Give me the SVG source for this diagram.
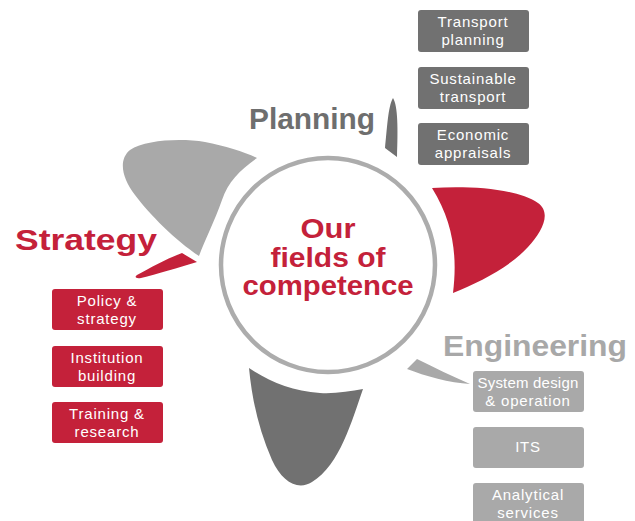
<svg xmlns="http://www.w3.org/2000/svg" width="635" height="521" viewBox="0 0 635 521">
<style>
.title{font-family:"Liberation Sans",Arial,sans-serif;font-weight:bold;font-size:30px}
.ctr{font-family:"Liberation Sans",Arial,sans-serif;font-weight:bold;font-size:28px;fill:#c4213a;text-anchor:middle}
.bt{font-family:"Liberation Sans",Arial,sans-serif;font-size:15px;fill:#ffffff;text-anchor:middle;letter-spacing:0.8px}
.red{fill:#c4213a}
.dk{fill:#717171}
.lt{fill:#a9a9a9}
</style>
<rect width="635" height="521" fill="#ffffff"/>
<g id="petals">
<path class="lt" d="M257,158 C240,170 228,182 222,200 C215,220 205,240 199,256 C175,240 150,215 135,195 C122,178 118,160 130,150 C145,140 180,138 205,142 C225,146 245,152 257,158 Z"/>
<path class="red" d="M432,188 C470,186 515,188 538,203 C552,213 542,232 528,247 C510,267 480,282 453,293 C457,260 455,225 432,188 Z"/>
<path class="dk" d="M249,368 C270,382 292,391 320,393 C335,394 350,391 363,389 C352,420 340,465 312,482 C298,491 282,482 272,460 C259,430 252,400 249,368 Z"/>
</g>
<g id="connectors">
<path class="dk" d="M393,98 C398,106 398,130 397,157 L385,148 C387,130 388,106 393,98 Z"/>
<path class="red" d="M137,275 C150,268 168,258 182,253 L197,262 C177,268 157,274 141,278 C136,279 134,277 137,275 Z"/>
<path class="lt" d="M407,369 L417,359 C435,368 452,376 470,384 C450,383 425,376 407,369 Z"/>
</g>
<g id="center">
<circle cx="328" cy="265" r="107" fill="#ffffff" stroke="#acacac" stroke-width="4.5"/>
<text class="ctr" x="328" y="238" textLength="55" lengthAdjust="spacingAndGlyphs">Our</text>
<text class="ctr" x="328" y="267" textLength="115" lengthAdjust="spacingAndGlyphs">fields of</text>
<text class="ctr" x="328" y="295" textLength="171" lengthAdjust="spacingAndGlyphs">competence</text>
</g>
<g id="planning-title"><text class="title" x="249" y="129" fill="#6e6e6e" textLength="126" lengthAdjust="spacingAndGlyphs">Planning</text></g>
<g id="strategy-title"><text class="title" x="15" y="250" fill="#c4213a" textLength="142" lengthAdjust="spacingAndGlyphs">Strategy</text></g>
<g id="engineering-title"><text class="title" x="443" y="356" fill="#a8a8a8" textLength="184" lengthAdjust="spacingAndGlyphs">Engineering</text></g>
<g id="transport-planning"><rect class="dk" x="418" y="10" width="111" height="42" rx="3"/><text class="bt" x="473" y="27">Transport</text><text class="bt" x="473" y="45">planning</text></g>
<g id="sustainable-transport"><rect class="dk" x="418" y="67" width="111" height="42" rx="3"/><text class="bt" x="473" y="84">Sustainable</text><text class="bt" x="473" y="102">transport</text></g>
<g id="economic-appraisals"><rect class="dk" x="418" y="123" width="111" height="42" rx="3"/><text class="bt" x="473" y="140">Economic</text><text class="bt" x="473" y="158">appraisals</text></g>
<g id="policy-strategy"><rect class="red" x="52" y="289" width="111" height="41" rx="3"/><text class="bt" x="107" y="306">Policy &amp;</text><text class="bt" x="107" y="324">strategy</text></g>
<g id="institution-building"><rect class="red" x="52" y="346" width="111" height="41" rx="3"/><text class="bt" x="107" y="363">Institution</text><text class="bt" x="107" y="381">building</text></g>
<g id="training-research"><rect class="red" x="52" y="402" width="111" height="41" rx="3"/><text class="bt" x="107" y="419">Training &amp;</text><text class="bt" x="107" y="437">research</text></g>
<g id="system-design"><rect class="lt" x="473" y="371" width="111" height="41" rx="3"/><text class="bt" x="528" y="388" style="letter-spacing:0.2px">System design</text><text class="bt" x="528" y="406">&amp; operation</text></g>
<g id="its"><rect class="lt" x="473" y="427" width="111" height="41" rx="3"/><text class="bt" x="528" y="452">ITS</text></g>
<g id="analytical-services"><rect class="lt" x="473" y="483" width="111" height="45" rx="3"/><text class="bt" x="528" y="500">Analytical</text><text class="bt" x="528" y="518">services</text></g>
</svg>
